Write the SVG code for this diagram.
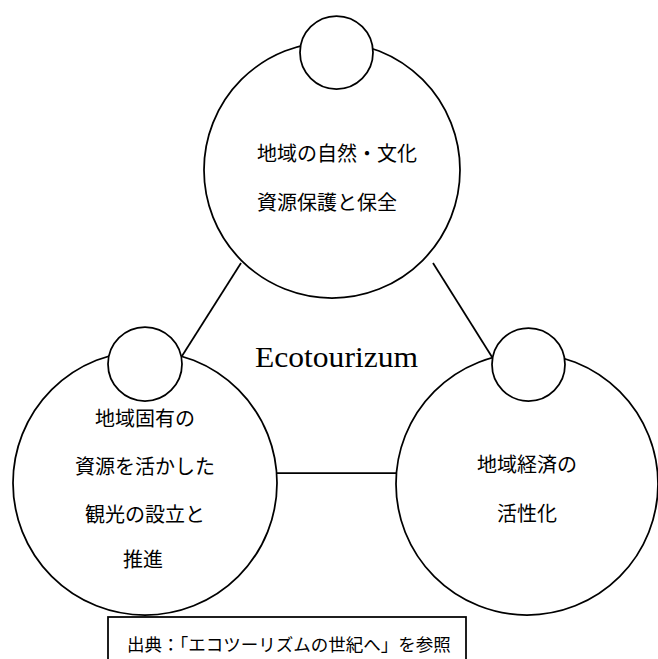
<svg xmlns="http://www.w3.org/2000/svg" width="658" height="659" viewBox="0 0 658 659">
<style>
.c{fill:#fff;stroke:#000;stroke-width:1.75}
.l{stroke:#000;stroke-width:1.75;fill:none}
.t{font-family:"Noto Sans CJK JP","Noto Sans",sans-serif;font-size:20px;fill:#000;text-anchor:middle}
.s{font-family:"Noto Sans CJK JP","Noto Sans",sans-serif;font-size:17.5px;fill:#000}
.e{font-family:"Liberation Serif","DejaVu Serif",serif;font-size:30px;fill:#000;text-anchor:middle}
</style>
<rect width="658" height="659" fill="#fff"/>
<g id="connectors">
<line class="l" x1="241" y1="263" x2="182" y2="356"/>
<line class="l" x1="433" y1="263" x2="492" y2="357"/>
<line class="l" x1="277" y1="473" x2="396" y2="473"/>
</g>
<g id="node-top">
<circle class="c" cx="332" cy="170" r="128"/>
<circle class="c" cx="336.5" cy="52.5" r="36.5"/>
<text class="t" x="337" y="161">地域の自然・文化</text>
<text class="t" x="327" y="210">資源保護と保全</text>
</g>
<g id="node-left">
<circle class="c" cx="145" cy="483" r="132"/>
<circle class="c" cx="145" cy="364" r="37"/>
<text class="t" x="145" y="426">地域固有の</text>
<text class="t" x="145" y="474">資源を活かした</text>
<text class="t" x="145" y="522">観光の設立と</text>
<text class="t" x="143" y="567">推進</text>
</g>
<g id="node-right">
<circle class="c" cx="527" cy="484" r="131"/>
<circle class="c" cx="528.5" cy="364.5" r="36.5"/>
<text class="t" x="527" y="472">地域経済の</text>
<text class="t" x="527" y="521">活性化</text>
</g>
<g id="title">
<text class="e" x="336.5" y="367" textLength="163" lengthAdjust="spacingAndGlyphs">Ecotourizum</text>
</g>
<g id="source">
<rect x="108" y="617" width="358" height="50" fill="#fff" stroke="#000" stroke-width="1.75"/>
<text class="s" x="127" y="651">出典：「エコツーリズムの世紀へ」を参照</text>
</g>
</svg>
